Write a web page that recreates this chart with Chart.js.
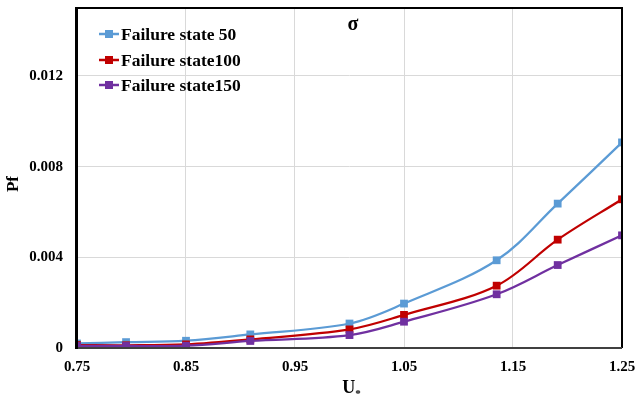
<!DOCTYPE html>
<html>
<head>
<meta charset="utf-8">
<style>
  html, body { margin: 0; padding: 0; background: #ffffff; }
  #wrap { width: 635px; height: 402px; }
</style>
<script src="https://cdn.jsdelivr.net/npm/chart.js@4.4.1/dist/chart.umd.min.js"></script>
</head>
<body>
<div id="wrap"><canvas id="c" width="635" height="402"></canvas></div>
<script>
// ---- data ----
const uValues = [0.75, 0.795, 0.85, 0.909, 1.0, 1.05, 1.135, 1.191, 1.25];
const seriesNames = ['Failure state 50', 'Failure state100', 'Failure state150'];
const pf50  = [0.00020, 0.00026, 0.00032, 0.00060, 0.00108, 0.00196, 0.00387, 0.00637, 0.00907];
const pf100 = [0.00013, 0.00012, 0.00016, 0.00038, 0.00082, 0.00146, 0.00275, 0.00478, 0.00656];
const pf150 = [0.00009, 0.00009, 0.00010, 0.00031, 0.00057, 0.00116, 0.00237, 0.00366, 0.00497];
const xTicks = [0.75, 0.85, 0.95, 1.05, 1.15, 1.25];
const yTicks = [0, 0.004, 0.008, 0.012];
const seriesColors = ['#5B9BD5', '#C00000', '#7030A0'];
const chartTitle = 'σ';
const yTitle = 'Pf';
const xTitleMain = 'U';
const xTitleSub = '*';

const FONT = '"Liberation Serif", "Times New Roman", serif';

function pts(vals) { return uValues.map((u, i) => ({ x: u, y: vals[i] })); }
const allSeries = [pf50, pf100, pf150];

const datasets = allSeries.map((vals, i) => ({
  label: seriesNames[i],
  data: pts(vals),
  borderColor: seriesColors[i],
  backgroundColor: seriesColors[i],
  borderWidth: 2.25,
  pointStyle: 'rect',
  pointRadius: 5.5,
  pointHoverRadius: 5.5,
  pointBorderWidth: 0,
  tension: 0.35,
  order: 2 - i
}));

const decorPlugin = {
  id: 'decor',
  afterDraw(chart) {
    const ctx = chart.ctx;
    const a = chart.chartArea;
    ctx.save();
    // frame
    ctx.strokeStyle = '#000000';
    ctx.lineWidth = 2;
    ctx.beginPath();
    ctx.moveTo(a.left, a.top);
    ctx.lineTo(a.right, a.top);
    ctx.lineTo(a.right, a.bottom);
    ctx.stroke();
    ctx.strokeStyle = '#404040';
    ctx.beginPath();
    ctx.moveTo(a.left, a.bottom);
    ctx.lineTo(a.right, a.bottom);
    ctx.stroke();
    ctx.strokeStyle = '#000000';
    ctx.lineWidth = 3;
    ctx.beginPath();
    ctx.moveTo(a.left - 0.5, a.top - 1);
    ctx.lineTo(a.left - 0.5, a.bottom + 1);
    ctx.stroke();

    // chart title
    ctx.fillStyle = '#000000';
    ctx.font = 'bold 20px ' + FONT;
    ctx.textAlign = 'center';
    ctx.textBaseline = 'middle';
    ctx.fillText(chartTitle, 353, 25);

    // y title
    ctx.save();
    ctx.translate(14, 184);
    ctx.rotate(-Math.PI / 2);
    ctx.font = 'bold 17px ' + FONT;
    ctx.fillText(yTitle, 0, 0);
    ctx.restore();

    // x title U*
    ctx.font = 'bold 18px ' + FONT;
    const wU = ctx.measureText(xTitleMain).width;
    ctx.font = 'bold 11px ' + FONT;
    const wS = ctx.measureText(xTitleSub).width;
    const cx = (a.left + a.right) / 2 + 2;
    const x0 = cx - (wU + wS) / 2;
    ctx.textAlign = 'left';
    ctx.font = 'bold 18px ' + FONT;
    ctx.fillText(xTitleMain, x0, 388);
    ctx.font = 'bold 11px ' + FONT;
    ctx.fillText(xTitleSub, x0 + wU, 394);

    // legend
    const rows = [34, 60, 85];
    chart.data.datasets.forEach((ds, i) => {
      const y = rows[i];
      ctx.strokeStyle = ds.borderColor;
      ctx.lineWidth = 2.5;
      ctx.beginPath();
      ctx.moveTo(99, y);
      ctx.lineTo(119, y);
      ctx.stroke();
      ctx.fillStyle = ds.borderColor;
      ctx.fillRect(105, y - 4, 8, 8);
      ctx.fillStyle = '#000000';
      ctx.font = 'bold 17.5px ' + FONT;
      ctx.textAlign = 'left';
      ctx.textBaseline = 'middle';
      ctx.fillText(ds.label, 121, y + 1);
    });
    ctx.restore();
  }
};

new Chart(document.getElementById('c'), {
  type: 'line',
  data: { datasets },
  options: {
    responsive: false,
    animation: false,
    devicePixelRatio: 1,
    layout: { padding: { left: 0, top: 8, right: 13, bottom: 0 } },
    plugins: {
      legend: { display: false },
      tooltip: { enabled: false },
      title: { display: false }
    },
    scales: {
      x: {
        type: 'linear',
        min: 0.75,
        max: 1.25,
        afterBuildTicks(scale) { scale.ticks = xTicks.map(v => ({ value: v })); },
        ticks: {
          callback: v => v.toFixed(2),
          font: { family: FONT, size: 15, weight: 'bold' },
          color: '#000000',
          padding: 10,
          maxRotation: 0,
          autoSkip: false
        },
        grid: { color: '#D9D9D9', lineWidth: 1, drawTicks: false },
        border: { display: false },
        afterFit(scale) {
          scale.height = 54;
          scale.paddingLeft = 0;
          scale.paddingRight = 0;
        }
      },
      y: {
        type: 'linear',
        min: 0,
        max: 0.015,
        afterBuildTicks(scale) { scale.ticks = yTicks.map(v => ({ value: v })); },
        ticks: {
          callback: v => (v === 0 ? '0' : v.toFixed(3)),
          font: { family: FONT, size: 15, weight: 'bold' },
          color: '#000000',
          padding: 14,
          autoSkip: false
        },
        grid: { color: '#D9D9D9', lineWidth: 1, drawTicks: false },
        border: { display: false },
        afterFit(scale) {
          scale.width = 77;
          scale.paddingTop = 0;
          scale.paddingBottom = 0;
        }
      }
    }
  },
  plugins: [decorPlugin]
});
</script>
</body>
</html>
